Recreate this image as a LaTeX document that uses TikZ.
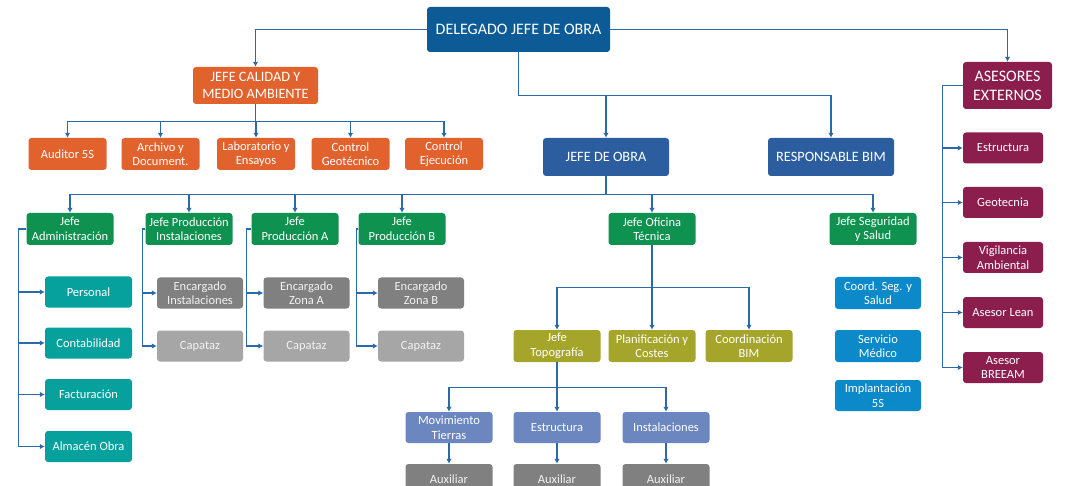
\documentclass[tikz,border=0pt]{standalone}
\usepackage{fontspec}
\setmainfont{Carlito}
\usetikzlibrary{arrows.meta}
\definecolor{delblue}{HTML}{0C5A96}
\definecolor{obrablue}{HTML}{2C5E9F}
\definecolor{calorange}{HTML}{E2622E}
\definecolor{jefegreen}{HTML}{0F9150}
\definecolor{admteal}{HTML}{06A19C}
\definecolor{gdark}{HTML}{808080}
\definecolor{glight}{HTML}{A6A6A6}
\definecolor{ofolive}{HTML}{A6A52B}
\definecolor{toposlate}{HTML}{6C87BF}
\definecolor{sysky}{HTML}{0B89C8}
\definecolor{asmaroon}{HTML}{8C1E4E}
\definecolor{linkblue}{HTML}{2A6AAA}
\tikzset{
    box/.style = {rounded corners=3pt, align=center, text=white, inner sep=1pt,
        font=\fontsize{12.5}{14.5}\selectfont},
    bigbox/.style = {box, font=\fontsize{14.3}{16.5}\selectfont},
    link/.style = {draw=linkblue, line width=1.3pt, -{Latex[length=5pt,width=5.5pt]}}
}
\begin{document}
\begin{tikzpicture}[x=1pt, y=-1pt]
    \clip (0,0) rectangle (1065,486);
    \fill[white] (0,0) rectangle (1065,486);

    % top level
    \node[bigbox, fill=delblue, minimum width=183pt, minimum height=45pt,
        font=\fontsize{16}{19}\selectfont] (delegado) at (518.5,29.5) {DELEGADO JEFE DE OBRA};
    \node[bigbox, fill=calorange, minimum width=125pt, minimum height=37pt] (calidad) at (255.5,85.5)
        {JEFE CALIDAD Y\\MEDIO AMBIENTE};
    \node[bigbox, fill=asmaroon, minimum width=89pt, minimum height=47pt,
        font=\fontsize{16}{19}\selectfont] (asesores) at (1007.5,85.5) {ASESORES\\EXTERNOS};
    \node[bigbox, fill=obrablue, minimum width=126pt, minimum height=38pt] (jobra) at (606,157) {JEFE DE OBRA};
    \node[bigbox, fill=obrablue, minimum width=126pt, minimum height=38pt] (rbim) at (831,157) {RESPONSABLE BIM};

    \draw[link] (delegado.west) -| (calidad.north);
    \draw[link] (delegado.east) -| (asesores.north);
    \draw[link] (delegado.south) -- ++(0,43) -| (jobra.north);
    \draw[link] (delegado.south) -- ++(0,43) -| (rbim.north);

    % calidad
    \foreach \n/\x/\t in {auditor/67.5/Auditor 5S, archivo/160.5/Archivo y\\Document.,
        lab/256/Laboratorio y\\Ensayos, cgeo/350.5/Control\\Geotécnico, cejec/444/Control\\Ejecución} {
        \node[box, fill=calorange, minimum width=78pt, minimum height=32pt] (\n) at (\x,154) {\t};
        \draw[link] (calidad.south) -- ++(0,17.5) -| (\n.north);
    }

    % jefes de obra
    \foreach \n/\x/\t in {jadmin/70/Jefe\\Administración, jinst/189/Jefe Producción\\Instalaciones,
        jproda/295/Jefe\\Producción A, jprodb/402/Jefe\\Producción B,
        jotec/652/Jefe Oficina\\Técnica, jsys/873/Jefe Seguridad\\y Salud} {
        \node[box, fill=jefegreen, minimum width=87pt, minimum height=32pt] (\n) at (\x,229) {\t};
        \draw[link] (jobra.south) -- ++(0,18) -| (\n.north);
    }

    % administracion
    \foreach \n/\y/\t in {personal/292/Personal, contab/343/Contabilidad,
        factur/394.5/Facturación, almacen/446.5/Almacén Obra} {
        \node[box, fill=admteal, minimum width=87pt, minimum height=31pt] (\n) at (88.5,\y) {\t};
        \draw[link] (jadmin.west) -- ++(-8,0) |- (\n.west);
    }

    % produccion
    \foreach \j/\x/\d/\e/\t in {jinst/200/3/encinst/Encargado\\Instalaciones,
        jproda/306.5/5/encza/Encargado\\Zona A, jprodb/421/2/enczb/Encargado\\Zona B} {
        \node[box, fill=gdark, text=white!90!gray, minimum width=86pt, minimum height=31pt] (\e) at (\x,293) {\t};
        \node[box, fill=glight, text=white!90!gray, minimum width=86pt, minimum height=31pt] (cap\e) at (\x,346) {Capataz};
        \draw[link] (\j.west) -- ++(-\d,0) |- (\e.west);
        \draw[link] (\j.west) -- ++(-\d,0) |- (cap\e.west);
    }

    % oficina tecnica
    \foreach \n/\x/\t in {jtopo/557/Jefe\\Topografía, planif/652/Planificación y\\Costes, cbim/749/Coordinación\\BIM} {
        \node[box, fill=ofolive, minimum width=87pt, minimum height=32pt] (\n) at (\x,346) {\t};
        \draw[link] (jotec.south) -- ++(0,42) -| (\n.north);
    }
    \foreach \n/\x/\t in {movt/449/Movimiento\\Tierras, estr/557/Estructura, inst/666/Instalaciones} {
        \node[box, fill=toposlate, minimum width=87pt, minimum height=31pt] (\n) at (\x,427.5) {\t};
        \node[box, fill=gdark, text=white!90!gray, minimum width=87pt, minimum height=31pt] (aux\n) at (\x,479.5) {Auxiliar};
        \draw[link] (jtopo.south) -- ++(0,25) -| (\n.north);
        \draw[link] (\n.south) -- (aux\n.north);
    }

    % seguridad y salud
    \node[box, fill=sysky, minimum width=86pt, minimum height=32pt] (coord) at (878,293) {Coord. Seg. y\\Salud};
    \node[box, fill=sysky, minimum width=86pt, minimum height=32pt] (medico) at (878,346) {Servicio\\Médico};
    \node[box, fill=sysky, minimum width=86pt, minimum height=31pt] (impl) at (878,395.5) {Implantación\\5S};

    % asesores
    \foreach \n/\y/\t in {aestr/148/Estructura, ageo/202.5/Geotecnia, avig/257.5/Vigilancia\\Ambiental,
        alean/312.5/Asesor Lean, abreeam/367.5/Asesor\\BREEAM} {
        \node[box, fill=asmaroon, minimum width=80pt, minimum height=31pt] (\n) at (1003,\y) {\t};
        \draw[link] (asesores.west) -- ++(-20,0) |- (\n.west);
    }
\end{tikzpicture}
\end{document}
